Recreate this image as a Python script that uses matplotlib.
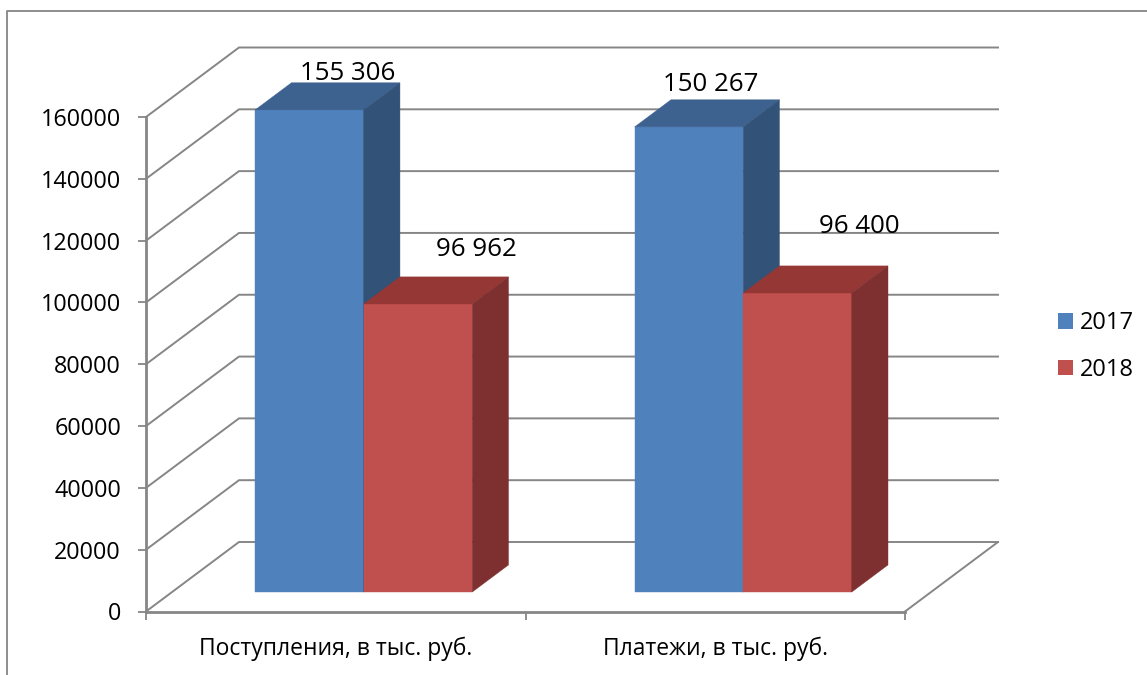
import matplotlib
matplotlib.use("Agg")
import matplotlib.pyplot as plt
from matplotlib.lines import Line2D
from matplotlib.patches import Patch, Polygon

plt.rcParams['font.family'] = ['Open Sans', 'DejaVu Sans']

categories = ["Поступления, в тыс. руб.", "Платежи, в тыс. руб."]
series_names = ["2017", "2018"]
values_2017 = [156000, 150500]
values_2018 = [93200, 96750]
labels_2017 = ["155 306", "150 267"]
labels_2018 = ["96 962", "96 400"]
y_ticks = [0, 20000, 40000, 60000, 80000, 100000, 120000, 140000, 160000]

GRID = "#868686"
BLUE = ("#4F81BD", "#3D6290", "#335278")
RED = ("#C0504D", "#953735", "#7D302F")

W, H = 1147, 675
fig = plt.figure(figsize=(W / 100, H / 100), dpi=100)
ax = fig.add_axes([146 / W, 1 - 611.5 / H, 759 / W, 494.5 / H])
ax.set_xlim(0, 2)
ax.set_ylim(0, 160000)
ax.patch.set_alpha(0)

# size of the fake 3d depth, in data units
depth_x = 93 / 379.5
depth_y = 69.5 * 160000 / 494.5
bar_width = 0.286


def project(x, y, depth):
    return x + depth * depth_x, y + depth * depth_y


# back wall gridlines and the side lines running to the y axis
for v in y_ticks:
    x0, y0 = project(0, v, 0)
    x1, y1 = project(0, v, 1)
    x2, y2 = project(2, v, 1)
    ax.plot([x0, x1, x2], [y0, y1, y2], color=GRID, lw=1.4, clip_on=False, zorder=1,
            solid_joinstyle="miter")
x0, y0 = project(2, 0, 0)
x1, y1 = project(2, 0, 1)
ax.plot([x0, x1], [y0, y1], color=GRID, lw=1.4, clip_on=False, zorder=1)


def draw_bar(x, value, colors):
    # front face sits a little inside the floor
    d0, d1 = 0.28, 0.67
    corners = [
        ([project(x + a, b, d0) for a, b in [(0, 0), (bar_width, 0), (bar_width, value), (0, value)]], colors[0]),
        ([project(x, value, d0), project(x + bar_width, value, d0),
          project(x + bar_width, value, d1), project(x, value, d1)], colors[1]),
        ([project(x + bar_width, 0, d0), project(x + bar_width, 0, d1),
          project(x + bar_width, value, d1), project(x + bar_width, value, d0)], colors[2]),
    ]
    for pts, c in corners:
        ax.add_patch(Polygon(pts, closed=True, facecolor=c, edgecolor=c, lw=0.3, clip_on=False, zorder=3))
    return project(x + bar_width / 2, value, d0)


# hand placed labels, offset in pixels from the top of the front face
offsets_2017 = [(38, 36), (22, 42)]
offsets_2018 = [(58, 54), (62, 67)]

for i in range(len(categories)):
    left = i + 0.5 - bar_width + 0.005
    for x, vals, labs, offs, cols in [
        (left, values_2017, labels_2017, offsets_2017, BLUE),
        (left + bar_width, values_2018, labels_2018, offsets_2018, RED),
    ]:
        top = draw_bar(x, vals[i], cols)
        ax.annotate(labs[i], xy=top, xytext=offs[i], textcoords="offset pixels",
                    ha="center", va="center", fontsize=18.6, color="black", zorder=5,
                    annotation_clip=False)

for side in ["top", "right"]:
    ax.spines[side].set_visible(False)
for side in ["left", "bottom"]:
    ax.spines[side].set_color(GRID)
    ax.spines[side].set_linewidth(2)

ax.set_yticks(y_ticks)
ax.set_yticklabels([str(v) for v in y_ticks])
ax.set_xticks([0, 1, 2])
ax.set_xticklabels([])
ax.set_xticks([0.5, 1.5], minor=True)
ax.set_xticklabels(categories, minor=True)
ax.tick_params(axis="y", length=6, width=1.3, color=GRID, pad=12, labelsize=16.8)
ax.tick_params(axis="x", which="major", length=6, width=1.3, color=GRID)
ax.tick_params(axis="x", which="minor", length=0, pad=18, labelsize=16.5)

handles = [Patch(facecolor=BLUE[0], label=series_names[0]), Patch(facecolor=RED[0], label=series_names[1])]
ax.legend(handles=handles, loc="center left", bbox_to_anchor=(1051 / W, 1 - 346.5 / H),
          bbox_transform=fig.transFigure, frameon=False, fontsize=17, handlelength=0.64,
          handleheight=0.64, handletextpad=0.3, labelspacing=0.97, borderpad=0, borderaxespad=0.3)

# outer chart frame, cut off at the right and the bottom of the picture
frame_x = 7.5 / W
frame_y = 1 - 10.5 / H
fig.add_artist(Line2D([frame_x, frame_x, 1], [0, frame_y, frame_y], color=GRID, lw=1.3))

fig.savefig("out.png", dpi=100, facecolor="white")
